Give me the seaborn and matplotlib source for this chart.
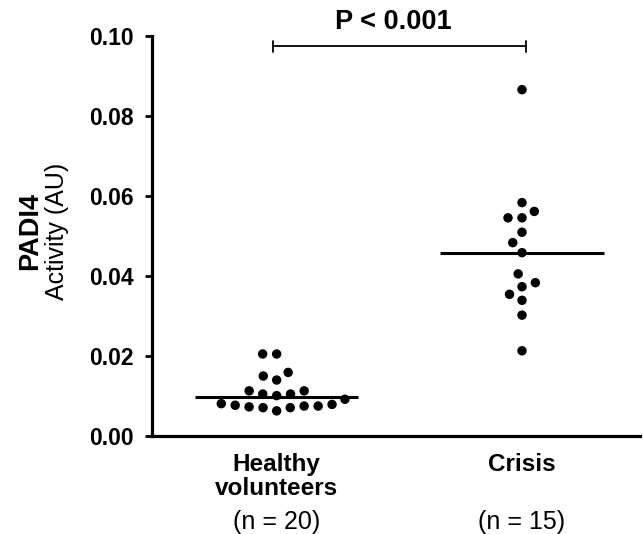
import numpy as np
import pandas as pd
import matplotlib
matplotlib.use("Agg")
import matplotlib.pyplot as plt
import matplotlib.transforms as mtransforms
import seaborn as sns

# values (PADI4 activity, AU)
healthy = [0.0206, 0.0206, 0.0160, 0.0151, 0.0141, 0.0114, 0.0114, 0.0106, 0.0106, 0.0102,
           0.0093, 0.0082, 0.0080, 0.0078, 0.0076, 0.0076, 0.0074, 0.0072, 0.0072, 0.0064]
crisis = [0.0866, 0.0584, 0.0562, 0.0546, 0.0546, 0.0510, 0.0484, 0.0459,
          0.0406, 0.0384, 0.0374, 0.0355, 0.0340, 0.0303, 0.0214]
groups = ["Healthy\nvolunteers", "Crisis"]
n_labels = ["(n = 20)", "(n = 15)"]
y_ticks = [0.00, 0.02, 0.04, 0.06, 0.08, 0.10]
p_text = "P < 0.001"

df = pd.DataFrame({
    "group": [groups[0]] * len(healthy) + [groups[1]] * len(crisis),
    "activity": healthy + crisis,
})

sns.set_style("ticks")
plt.rcParams["font.family"] = ["Liberation Sans", "DejaVu Sans"]
for key in ["text.color", "axes.labelcolor", "xtick.color", "ytick.color", "axes.edgecolor"]:
    plt.rcParams[key] = "black"

fig = plt.figure(figsize=(6.43, 5.34), dpi=100)
ax = fig.add_axes([0.2364, 0.1826, 0.7586, 0.7500])

# swarm with extra spacing: linewidth counts for the collision but edge is invisible
sns.swarmplot(data=df, x="group", y="activity", order=groups, color="black",
              size=6.8, linewidth=2.8, edgecolor="none", ax=ax, warn_thresh=1.0)

# median lines
for i, vals in enumerate([healthy, crisis]):
    ax.hlines(np.median(vals), i - 0.333, i + 0.333, color="black", lw=2.2, zorder=5)

ax.set_xlim(-0.508, 1.48)
ax.set_ylim(0, 0.10)
ax.set_yticks(y_ticks)
ax.set_yticklabels([f"{v:.2f}" for v in y_ticks], fontsize=16.5, fontweight="bold")
ax.set_xticks([0, 1])
ax.set_xticklabels(groups, fontsize=17.5, fontweight="bold", linespacing=1.05, va="top")
ax.tick_params(axis="x", length=0, pad=12)
ax.tick_params(axis="y", length=5, width=2, pad=8)
ax.set_xlabel("")
ax.set_ylabel("")
for side in ["left", "bottom"]:
    ax.spines[side].set_linewidth(2.3)
sns.despine(ax=ax)

# group sizes under the category names
trans = mtransforms.blended_transform_factory(ax.transData, ax.transAxes)
for i, lab in enumerate(n_labels):
    ax.text(i, -0.213, lab, transform=trans, ha="center", va="center", fontsize=18)

# significance bracket
yb = 0.0974
ax.plot([-0.016, 1.016], [yb, yb], color="black", lw=1.3, clip_on=False)
for xe in [-0.016, 1.016]:
    ax.plot([xe, xe], [yb - 0.0013, yb + 0.0013], color="black", lw=1.3, clip_on=False)
ax.text(0.476, 0.1003, p_text, ha="center", va="bottom", fontsize=19.5,
        fontweight="bold", clip_on=False)

# two-line y label
fig.text(30 / 643, (534 - 231) / 534, "PADI4", rotation=90, ha="center", va="center",
         fontsize=19.5, fontweight="bold")
fig.text(57 / 643, (534 - 231) / 534, "Activity (AU)", rotation=90, ha="center", va="center",
         fontsize=18)

fig.savefig("out.png", dpi=100)
